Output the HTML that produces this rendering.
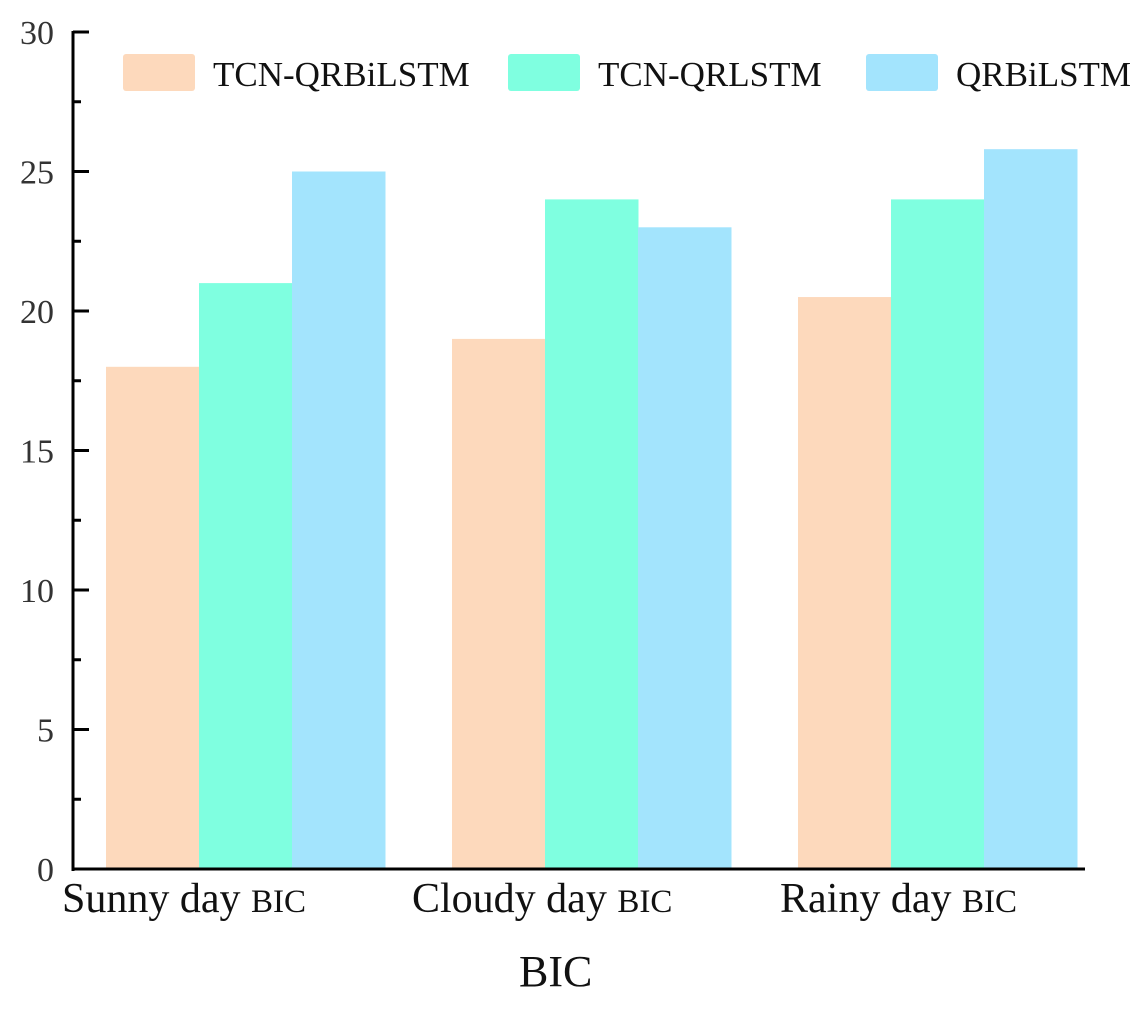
<!DOCTYPE html>
<html><head><meta charset="utf-8"><style>
body{margin:0;background:#fff}
svg text{font-family:"Liberation Serif",serif}
</style></head><body>
<svg width="1139" height="1004">
<g id="bars"></g>
<g id="axes"></g>
<g id="legend"></g>
<text x="519" y="986" font-size="44" fill="#111">BIC</text>
</svg>
<script>
const categories=["Sunny day","Cloudy day","Rainy day"];
const seriesNames=["TCN-QRBiLSTM","TCN-QRLSTM","QRBiLSTM"];
const tcnQRBiLSTM=[18,19,20.5];
const tcnQRLSTM=[21,24,24];
const qrBiLSTM=[25,23,25.8];
const yTicks=[0,5,10,15,20,25,30];
const colors=["#fdd9bc","#7fffe0","#a3e4fd"];
const NS="http://www.w3.org/2000/svg";
const y0=869,y1=32,yMax=30;
const yScale=v=>y0-(y0-y1)*v/yMax;
const groupStart=[106,452,798],barW=93;
const xScale=(g,s)=>groupStart[g]+s*barW;
function mk(tag,attrs,parent){const e=document.createElementNS(NS,tag);for(const k in attrs)e.setAttribute(k,attrs[k]);parent.appendChild(e);return e;}
const bars=document.getElementById('bars');
[tcnQRBiLSTM,tcnQRLSTM,qrBiLSTM].forEach((ser,s)=>{ser.forEach((v,g)=>{
 const r=mk('rect',{x:xScale(g,s),y:yScale(v),width:barW+0.5,height:y0-yScale(v),fill:colors[s]},bars);
 
 
});});
const axes=document.getElementById('axes');
const ya=mk('line',{x1:73,y1:yScale(30)-1,x2:73,y2:y0+2,stroke:"#000","stroke-width":3},axes);

const xa=mk('line',{x1:71.5,y1:y0,x2:1085,y2:y0,stroke:"#000","stroke-width":3},axes);

yTicks.forEach(t=>{
 const tk=mk('line',{x1:73,y1:yScale(t),x2:89,y2:yScale(t),stroke:"#000","stroke-width":3},axes);
 
 const tx=mk('text',{x:54,y:yScale(t)+12,"text-anchor":"end","font-size":"34",fill:"#333"},axes);
 tx.textContent=t;
 
 if(t<30){const m=mk('line',{x1:73,y1:yScale(t+2.5),x2:81,y2:yScale(t+2.5),stroke:"#000","stroke-width":3},axes);
 }
});
const labelX=[62,412,780];
categories.forEach((c,i)=>{
 const tx=mk('text',{x:labelX[i],y:912,"font-size":"42",fill:"#111"},axes);
 tx.innerHTML=c+' <tspan font-size="33">BIC</tspan>';
 
});
const lg=document.getElementById('legend');
const swX=[123,508,866];
seriesNames.forEach((n,i)=>{
 const r=mk('rect',{x:swX[i],y:54,width:72,height:37,rx:3,fill:colors[i]},lg);
 
 const t=mk('text',{x:swX[i]+90,y:86,"font-size":"35",fill:"#111"},lg);
 t.textContent=n;
 
});
</script>
</body></html>
